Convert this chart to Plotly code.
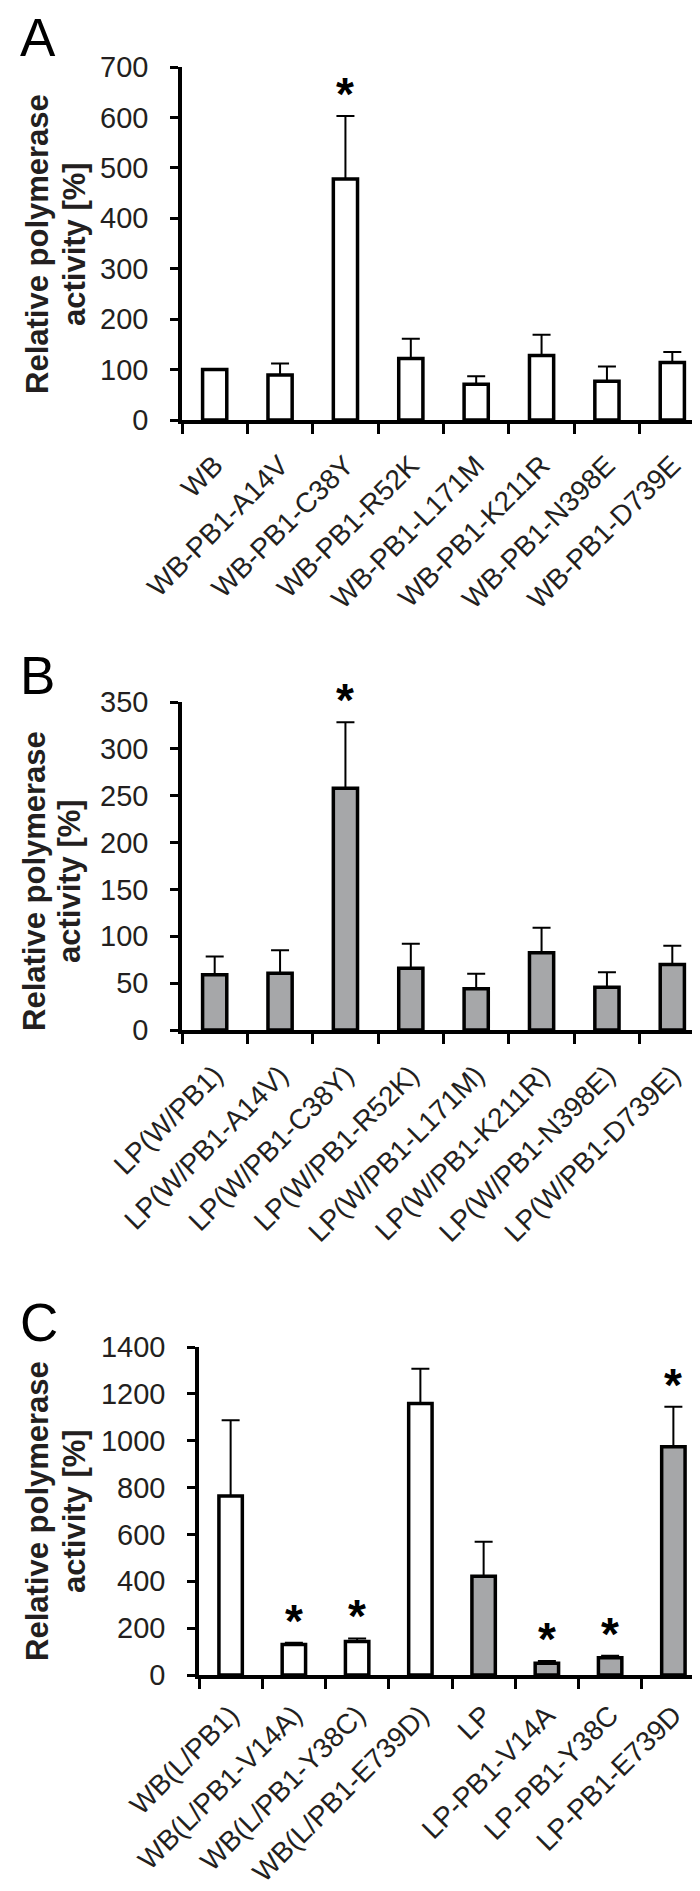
import plotly.graph_objects as go

W, H = 700, 1891
FONT = "Liberation Sans, Arial, Helvetica, sans-serif"
TXT = "#231f20"
GRAY = "#a6a7a9"

# ---------------- data ----------------
cats_a = ["WB", "WB-PB1-A14V", "WB-PB1-C38Y", "WB-PB1-R52K", "WB-PB1-L171M",
          "WB-PB1-K211R", "WB-PB1-N398E", "WB-PB1-D739E"]
vals_a = [100, 89, 478, 122, 71, 128, 77, 114]
errs_a = [0, 23, 125, 39, 16, 41, 29, 21]
sig_a = [False, False, True, False, False, False, False, False]

cats_b = ["LP(W/PB1)", "LP(W/PB1-A14V)", "LP(W/PB1-C38Y)", "LP(W/PB1-R52K)",
          "LP(W/PB1-L171M)", "LP(W/PB1-K211R)", "LP(W/PB1-N398E)", "LP(W/PB1-D739E)"]
vals_b = [59, 60.5, 258, 66, 44, 82.5, 45.5, 70]
errs_b = [19.5, 24.5, 70.5, 26, 16, 26.5, 16, 20]
sig_b = [False, False, True, False, False, False, False, False]

cats_c = ["WB(L/PB1)", "WB(L/PB1-V14A)", "WB(L/PB1-Y38C)", "WB(L/PB1-E739D)",
          "LP", "LP-PB1-V14A", "LP-PB1-Y38C", "LP-PB1-E739D"]
vals_c = [764, 130, 143, 1159, 421, 50, 74, 974]
errs_c = [323, 8, 13, 148, 148, 10, 8, 171]
sig_c = [False, True, True, False, False, True, True, True]
fill_c = ["white"] * 4 + [GRAY] * 4

ticks_a = [0, 100, 200, 300, 400, 500, 600, 700]
ticks_b = [0, 50, 100, 150, 200, 250, 300, 350]
ticks_c = [0, 200, 400, 600, 800, 1000, 1200, 1400]

panels = [
    # letter, cats, vals, errs, sig, fill, ticks, x px (l,r), y px (top,bottom),
    # title y px, letter y px, title x px, x-label standoff
    ("A", cats_a, vals_a, errs_a, sig_a, ["white"] * 8, ticks_a, (174, 697), (59, 412), 236, 29, (29, 66), 14),
    ("B", cats_b, vals_b, errs_b, sig_b, [GRAY] * 8, ticks_b, (174, 697), (694, 1022), 873, 668, (27, 62), 14),
    ("C", cats_c, vals_c, errs_c, sig_c, fill_c, ticks_c, (191, 697), (1339, 1667), 1503, 1314, (29, 66), 9),
]

fig = go.Figure()
annotations = []
for i, (letter, cats, vals, errs, sig, fill, ticks, xr, yr, ty, ly, tx, so) in enumerate(panels):
    n = i + 1
    xa = "x" if n == 1 else f"x{n}"
    ya = "y" if n == 1 else f"y{n}"
    fig.add_trace(go.Bar(
        x=cats, y=vals, xaxis=xa, yaxis=ya,
        marker=dict(color=fill, line=dict(color="black", width=3.5)),
        width=0.37,
        error_y=dict(type="data", array=errs, arrayminus=[0] * len(errs),
                     symmetric=False, color="black", thickness=2, width=9),
        showlegend=False, hoverinfo="skip",
    ))
    xdom = [xr[0] / W, xr[1] / W]
    ydom = [1 - yr[1] / H, 1 - yr[0] / H]
    xkey = "xaxis" if n == 1 else f"xaxis{n}"
    ykey = "yaxis" if n == 1 else f"yaxis{n}"
    fig.update_layout(**{
        xkey: dict(domain=xdom, anchor=ya, type="category", tickson="boundaries",
                   ticks="outside", ticklen=10, tickwidth=3, tickcolor="black",
                   showline=True, linecolor="black", linewidth=3.5,
                   tickangle=-45, tickfont=dict(family=FONT, size=28, color=TXT),
                   showgrid=False, zeroline=False, ticklabelstandoff=so,
                   automargin=False, range=[-0.5, len(cats) - 0.5]),
        ykey: dict(domain=ydom, anchor=xa, range=[0, ticks[-1]],
                   tickmode="array", tickvals=ticks, ticktext=[str(t) for t in ticks],
                   ticks="outside", ticklen=8, tickwidth=3, tickcolor="black",
                   showline=True, linecolor="black", linewidth=3.5,
                   tickfont=dict(family=FONT, size=29, color=TXT),
                   showgrid=False, zeroline=False, ticklabelstandoff=16,
                   automargin=False),
    })
    # y-axis title, two lines
    for line, lx in zip(["Relative polymerase", "activity [%]"], tx):
        annotations.append(dict(
            text=f"<b>{line}</b>", textangle=-90,
            xref="paper", x=lx / W, xanchor="center",
            yref="paper", y=1 - ty / H, yanchor="middle",
            showarrow=False, font=dict(family=FONT, size=31, color=TXT),
        ))
    # panel letter
    annotations.append(dict(
        text=letter, xref="paper", x=10 / W, xanchor="left",
        yref="paper", y=1 - ly / H, yanchor="middle",
        showarrow=False, font=dict(family=FONT, size=53, color="black"),
    ))
    # significance asterisks
    for c, v, e, s in zip(cats, vals, errs, sig):
        if s:
            annotations.append(dict(
                text="<b>*</b>", xref=xa, yref=ya, x=c, y=v + e,
                xanchor="center", yanchor="bottom", yshift=-6,
                showarrow=False, font=dict(family=FONT, size=46, color="black"),
            ))

fig.update_layout(
    width=W, height=H, margin=dict(l=0, r=0, t=0, b=0),
    paper_bgcolor="white", plot_bgcolor="white",
    annotations=annotations,
)
fig.write_html("out.html")
